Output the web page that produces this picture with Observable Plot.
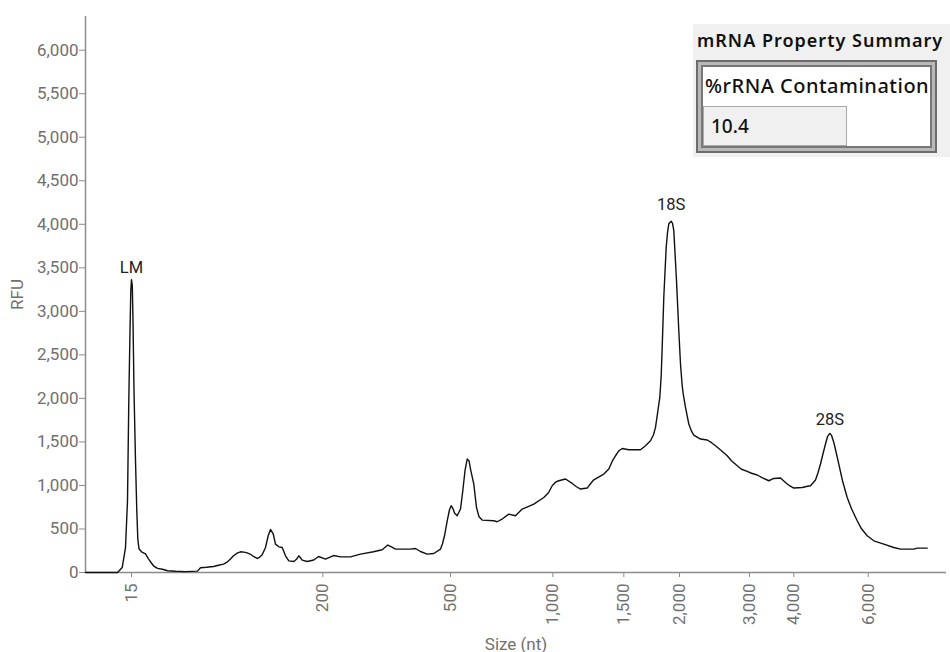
<!DOCTYPE html>
<html><head><meta charset="utf-8">
<script src="https://cdn.jsdelivr.net/npm/d3@7"></script>
<script src="https://cdn.jsdelivr.net/npm/@observablehq/plot@0.6"></script>
<style>
body{margin:0;background:#fff;font-family:Roboto,sans-serif;}
#wrap{position:relative;width:950px;height:652px;overflow:hidden;}
#panel{position:absolute;left:693px;top:24px;width:257px;height:133px;background:#f0f0f0;font-family:"Noto Sans",sans-serif;color:#111;}
#ptitle{position:absolute;left:4px;top:4px;font-size:18px;font-weight:600;white-space:nowrap;letter-spacing:1px;}
#frame{position:absolute;left:3px;top:36px;width:241px;height:93px;box-sizing:border-box;background:#fff;border:2px solid #6c6c6c;box-shadow:inset 0 0 0 3px #b8b8b8, inset 0 0 0 5px #777;}
#flabel{position:absolute;left:7px;top:10px;font-size:20px;font-weight:500;white-space:nowrap;letter-spacing:0.5px;}
#fvalue{position:absolute;left:5px;top:44px;width:144px;height:40px;background:#f0f0f0;border:1px solid #a8a8a8;font-size:19px;font-weight:500;line-height:38px;padding-left:7px;box-sizing:border-box;}
</style></head><body>
<div id="wrap"><div id="chart"></div>
<div id="panel"><div id="ptitle"></div><div id="frame"><div id="flabel"></div><div id="fvalue"></div></div></div>
</div>
<script>
// migration time (s) and fluorescence (RFU)
const migrationTime = [0,1.6,1.835,2.0,2.1,2.165,2.225,2.265,2.3,2.34,2.375,2.425,2.5,2.565,2.615,2.675,2.8,3.0,3.15,3.275,3.4,3.6,3.85,4.1,4.5,5.0,5.6,5.75,6.05,6.4,6.65,6.9,7.1,7.25,7.4,7.585,7.75,7.925,8.085,8.25,8.4,8.585,8.7,8.835,9.0,9.135,9.25,9.385,9.5,9.665,9.835,10.0,10.165,10.415,10.55,10.665,10.835,11.085,11.415,11.65,12.0,12.4,12.75,13.25,13.75,14.4,14.835,15.115,15.3,15.5,16.25,16.5,16.75,17.085,17.415,17.75,17.85,17.95,18.085,18.2,18.285,18.375,18.45,18.585,18.75,18.865,18.975,19.085,19.175,19.25,19.415,19.55,19.675,19.835,20.415,20.585,20.85,21.165,21.5,21.835,22.1,22.415,22.915,23.15,23.335,23.5,23.665,24.0,24.335,24.55,24.75,25.085,25.25,25.415,25.915,26.165,26.35,26.5,26.675,26.835,27.165,27.5,27.75,28.0,28.25,28.4,28.5,28.6,28.715,28.785,28.835,28.915,29.035,29.1,29.165,29.285,29.35,29.415,29.55,29.665,29.75,29.835,29.885,30.0,30.165,30.3,30.415,30.75,31.085,31.3,31.5,31.8,32.085,32.3,32.585,32.8,33.085,33.3,33.585,33.85,34.165,34.415,34.75,35.0,35.2,35.415,35.835,36.1,36.25,36.5,36.625,36.75,36.875,37.0,37.1,37.215,37.3,37.415,37.525,37.665,37.85,38.085,38.3,38.585,38.8,39.085,39.415,39.915,40.415,40.75,41.415,41.585,42.085];
const rfu = [0,0,57,287,823,1974,2778,3238,3364,3295,2893,2089,1284,709,387,272,238,215,157,115,77,48,37,20,14,10,16,54,60,69,83,97,123,154,192,223,238,234,226,209,184,161,175,203,287,422,494,445,326,295,287,192,134,126,152,192,143,126,143,184,154,195,180,180,211,238,261,315,295,269,269,276,241,211,218,269,330,422,594,721,767,732,683,652,729,939,1169,1303,1284,1188,1016,747,640,602,594,583,617,671,652,729,755,786,862,916,997,1037,1054,1074,1023,985,959,970,1019,1065,1131,1188,1284,1341,1399,1425,1410,1410,1410,1456,1514,1583,1667,1824,2011,2261,2586,3161,3736,3904,4005,4034,4014,3928,3353,2778,2395,2146,2051,1897,1706,1623,1579,1533,1522,1491,1456,1399,1341,1284,1226,1186,1161,1140,1120,1088,1054,1080,1085,1034,997,970,977,991,997,1062,1146,1246,1364,1476,1560,1598,1577,1494,1387,1246,1054,862,732,594,502,422,364,326,287,269,269,280,280];

// sizing ladder: fragment size (nt) and its migration time (s)
const ladderSizes = [15,200,500,1000,1500,2000,3000,4000,6000];
const ladderTimes = [2.3,11.865,18.25,23.365,26.915,29.7,33.2,35.415,39.135];

const yTicks = [0,500,1000,1500,2000,2500,3000,3500,4000,4500,5000,5500,6000];

const peakNames = ["LM","18S","28S"];
const peakTimes = [2.3,29.285,37.215];
const peakLabelRfu = [3500,4220,1760];

const summaryTitle = "mRNA Property Summary";
const summaryField = "%rRNA Contamination";
const summaryValue = "10.4";

const trace = migrationTime.map((t, i) => ({t, rfu: rfu[i]}));
const peaks = peakNames.map((name, i) => ({name, t: peakTimes[i], rfu: peakLabelRfu[i]}));

const axisColor = "#707070";

const chart = Plot.plot({
  width: 950,
  height: 652,
  marginLeft: 85,
  marginRight: 4,
  marginTop: 16,
  marginBottom: 80,
  style: {fontFamily: "Roboto, sans-serif", fontSize: "17px", color: axisColor, background: "transparent"},
  x: {domain: [0, 43.05]},
  y: {domain: [0, 6387]},
  marks: [
    Plot.axisX({
      ticks: ladderTimes,
      tickFormat: (d) => ladderSizes[ladderTimes.indexOf(d)].toLocaleString("en-US"),
      tickRotate: -90,
      tickSize: 5,
      tickPadding: 6,
      fontSize: 17,
      stroke: "#8c8c8c",
      fill: axisColor,
      label: "Size (nt)",
      labelAnchor: "center",
      labelArrow: "none",
      labelOffset: 77
    }),
    Plot.axisY({
      ticks: yTicks,
      tickSize: 6,
      tickPadding: 1,
      fontSize: 17,
      stroke: "#8c8c8c",
      fill: axisColor,
      label: "RFU",
      labelAnchor: "center",
      labelArrow: "none",
      labelOffset: 75
    }),
    Plot.ruleY([0], {stroke: "#8c8c8c", strokeWidth: 1.5}),
    Plot.ruleX([0], {stroke: "#8c8c8c", strokeWidth: 1.5}),
    Plot.line(trace, {x: "t", y: "rfu", stroke: "#111", strokeWidth: 1.4}),
    Plot.text(peaks, {x: "t", y: "rfu", text: "name", fill: "#222", fontSize: 16.5})
  ]
});
document.getElementById("chart").appendChild(chart);
document.getElementById("ptitle").textContent = summaryTitle;
document.getElementById("flabel").textContent = summaryField;
document.getElementById("fvalue").textContent = summaryValue;
</script>
</body></html>
